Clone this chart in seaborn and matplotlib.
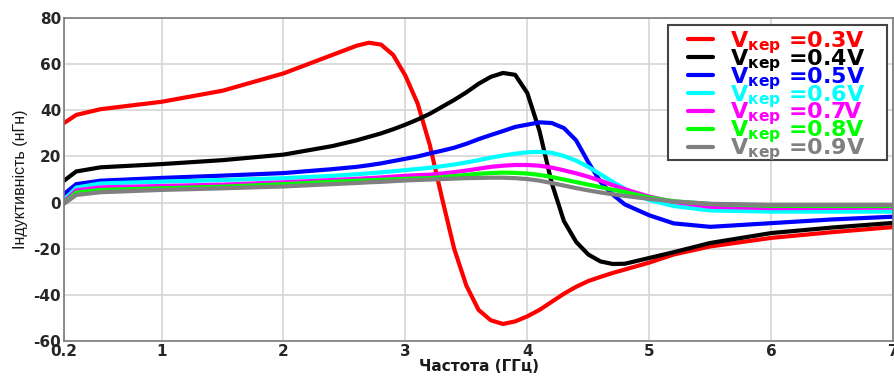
import numpy as np
import pandas as pd
import matplotlib
matplotlib.use("Agg")
import matplotlib.pyplot as plt
import matplotlib.patches as mpatches
import seaborn as sns

freq = [0.2, 0.3, 0.5, 1.0, 1.5, 2.0, 2.4, 2.6, 2.7, 2.8, 2.9, 3.0, 3.1, 3.2, 3.3, 3.4,
        3.5, 3.6, 3.7, 3.8, 3.9, 4.0, 4.1, 4.2, 4.3, 4.4, 4.5, 4.6, 4.7, 4.8, 5.0, 5.2,
        5.5, 6.0, 6.5, 7.0]

v03 = [34.5, 38, 40.5, 43.7, 48.5, 56, 64, 68, 69.3, 68.5, 64, 55, 43, 25, 2, -20,
       -36, -46.5, -51, -52.6, -51.5, -49.3, -46.5, -43, -39.5, -36.5, -34, -32.2, -30.5, -29, -26, -22.5,
       -19, -15.3, -12.8, -10.6]
v04 = [9.5, 13.5, 15.3, 16.7, 18.4, 20.8, 24.5, 27, 28.5, 30, 31.8, 33.8, 36, 38.5, 41.5, 44.5,
       47.8, 51.5, 54.5, 56.2, 55.4, 47.5, 31, 8.5, -8, -17, -22.5, -25.5, -26.6, -26.5, -24, -21.5,
       -17.5, -13.2, -10.8, -8.8]
v05 = [3.7, 8, 9.5, 10.7, 11.7, 12.8, 14.5, 15.5, 16.2, 17, 18, 19, 20, 21.3, 22.5, 23.8,
       25.5, 27.5, 29.3, 31, 32.8, 33.8, 34.8, 34.5, 32.3, 27, 17.5, 9, 3.5, -0.8, -5.5, -9,
       -10.5, -8.9, -7.3, -6.1]
v06 = [1.1, 6.5, 8.3, 9.1, 9.8, 10.6, 11.6, 12.3, 12.7, 13.1, 13.6, 14.1, 14.6, 15.1, 15.8, 16.5,
       17.4, 18.4, 19.5, 20.4, 21.2, 21.8, 22, 21.6, 20.2, 18.2, 15.5, 12.3, 9, 6, 1.1, -1.5,
       -3.4, -3.9, -3.9, -3.9]
v07 = [0.3, 5.3, 6.6, 7.2, 7.8, 8.8, 9.8, 10.3, 10.6, 10.9, 11.3, 11.6, 11.9, 12.1, 12.6, 13.2,
       13.9, 14.7, 15.5, 16, 16.3, 16.3, 16, 15.2, 14, 12.7, 11.2, 9.5, 7.6, 5.8, 2.6, 0.3,
       -1.8, -2.4, -2.3, -2.2]
v08 = [-0.3, 4.3, 5.5, 6.2, 6.9, 8, 9, 9.5, 9.7, 9.9, 10.1, 10.3, 10.5, 10.6, 11, 11.5,
       12, 12.5, 12.8, 13, 12.9, 12.6, 12, 11.1, 10, 8.9, 7.8, 6.7, 5.6, 4.6, 2.2, 0.6,
       -0.6, -1.4, -1.5, -1.5]
v09 = [-0.5, 3.3, 4.5, 5.5, 6.2, 7, 8, 8.5, 8.8, 9, 9.3, 9.6, 9.8, 10, 10.2, 10.4,
       10.6, 10.7, 10.8, 10.8, 10.6, 10.2, 9.5, 8.5, 7.4, 6.3, 5.3, 4.4, 3.6, 2.9, 1.6, 0.5,
       -0.5, -1, -1, -1]

series_names = ["0.3V", "0.4V", "0.5V", "0.6V", "0.7V", "0.8V", "0.9V"]
series_values = [v03, v04, v05, v06, v07, v08, v09]
colors = ["#ff0000", "#000000", "#0000ff", "#00ffff", "#ff00ff", "#00ff00", "#808080"]

x_ticks = [0.2, 1, 2, 3, 4, 5, 6, 7]
x_tick_labels = ["0.2", "1", "2", "3", "4", "5", "6", "7"]
y_ticks = [-60, -40, -20, 0, 20, 40, 60, 80]

rows = []
for name, vals in zip(series_names, series_values):
    for f, v in zip(freq, vals):
        rows.append({"freq": f, "L": v, "series": name})
df = pd.DataFrame(rows)

sns.set_theme(style="whitegrid")
plt.rcParams["font.family"] = ["DejaVu Sans"]
plt.rcParams["axes.unicode_minus"] = False
plt.rcParams["mathtext.fontset"] = "custom"
plt.rcParams["mathtext.rm"] = "DejaVu Sans:bold"
plt.rcParams["mathtext.bf"] = "DejaVu Sans:bold"
plt.rcParams["mathtext.it"] = "DejaVu Sans:bold"

fig = plt.figure(figsize=(8.94, 3.76), dpi=100)
ax = fig.add_axes([0.0716, 0.093, 0.9274, 0.859])

sns.lineplot(data=df, x="freq", y="L", hue="series", palette=colors,
             linewidth=3.0, ax=ax, sort=False, legend=False)

ax.set_xlim(0.2, 7)
ax.set_ylim(-60, 80)
ax.set_xticks(x_ticks)
ax.set_xticklabels(x_tick_labels)
ax.set_yticks(y_ticks)
ax.grid(True, color="#d6d6d6", linewidth=1.2)
ax.set_facecolor("white")
for s in ax.spines.values():
    s.set_color("#7a7a7a")
    s.set_linewidth(1.2)
ax.tick_params(axis="both", direction="in", length=5, width=0.8, color="#555555",
               labelsize=11, pad=2)
for lab in ax.get_xticklabels() + ax.get_yticklabels():
    lab.set_fontweight("bold")
    lab.set_color("#262626")

ax.set_xlabel("Частота (ГГц)", fontsize=11, fontweight="bold", labelpad=0,
              color="#1a1a1a")
ax.set_ylabel("Індуктивність (нГн)", fontsize=11.5, labelpad=4, color="#1a1a1a",
              family=["Liberation Sans Narrow", "Liberation Sans", "DejaVu Sans"])

# legend frame (white box with dark border)
frame = mpatches.Rectangle((0.7286, 0.5604), 0.2642, 0.4176, transform=ax.transAxes,
                           facecolor="white", edgecolor="#444444", linewidth=1.5,
                           zorder=4)
ax.add_patch(frame)

handles = [plt.Line2D([], [], color=c, linewidth=3.0) for c in colors]
labels = [r"V$_{кер}$ =" + n for n in series_names]
leg = ax.legend(handles, labels, loc="upper left", bbox_to_anchor=(0.7527, 0.966),
                prop={"family": "DejaVu Sans", "weight": "bold", "size": 16},
                handlelength=1.1, handletextpad=0.8, labelspacing=-0.40,
                borderpad=0.0, frameon=False, borderaxespad=0.0)
leg.set_zorder(5)
for t, c in zip(leg.get_texts(), colors):
    t.set_color(c)

fig.savefig("out.png", dpi=100, facecolor="white")
